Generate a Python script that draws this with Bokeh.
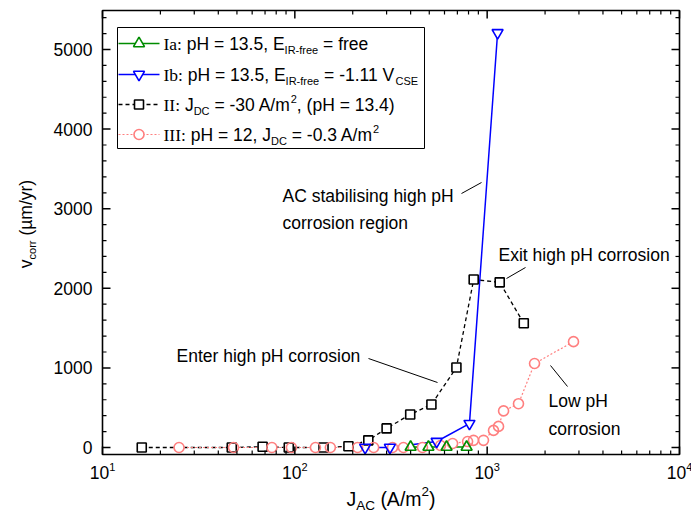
import math
from bokeh.plotting import figure
from bokeh.models import Range1d, Label
from bokeh.embed import file_html
from bokeh.resources import INLINE

# ---------------- data ----------------
ia_j = [400, 495, 615, 782]
ia_v = [5, 5, 5, 5]

ib_j = [232, 312, 546, 809, 1133]
ib_v = [0, 0, 75, 300, 5210]

ii_j = [16, 47, 68, 93, 141, 190, 241, 300, 398, 513, 692, 851, 1162, 1550]
ii_v = [0, 0, 10, 0, 0, 15, 90, 240, 415, 540, 1005, 2110, 2075, 1560]

iii_j = [25, 48, 76, 96, 128, 153, 212, 257, 322, 367, 461, 572, 661, 791, 849,
         957, 1079, 1146, 1217, 1455, 1763, 2811]
iii_v = [0, 0, 0, 0, 0, 0, 0, 0, 0, 0, 0, 25, 50, 75, 90, 90, 215, 265, 460,
         550, 1055, 1330]

x_tick_values = [10, 100, 1000, 10000]
x_tick_exponents = ["1", "2", "3", "4"]
x_minor_values = [m * 10 ** k for k in (1, 2, 3) for m in range(2, 10)]
y_tick_values = [0, 1000, 2000, 3000, 4000, 5000]
y_minor_values = [v for v in range(200, 5401, 200) if v % 1000 != 0]

# ---------------- layout constants ----------------
WIDTH, HEIGHT = 691, 524
L, R, T, B = 102, 679, 10, 454      # plot box in canvas pixels
X0, X1 = 10, 1e4                    # axis limits of the plot box
Y0, Y1 = -88, 5490
SANS = "Liberation Sans"
SERIF = "Liberation Serif"
FS = 17.5
FSS = 11
FS_XT, FSS_XT = 19.5, 13.5          # x-axis title sizes
MAJ, MIN = 8, 4                     # tick lengths (px)

C_IA = "#008C00"
C_IB = "#0000FF"
C_II = "#000000"
C_III = "#FF7F7F"


def px_to_x(px):
    lo, hi = math.log10(X0), math.log10(X1)
    return 10 ** (lo + (px - L) / (R - L) * (hi - lo))


def py_to_y(py):
    return Y0 + (B - py) / (B - T) * (Y1 - Y0)


def x_to_px(x):
    lo, hi = math.log10(X0), math.log10(X1)
    return L + (math.log10(x) - lo) / (hi - lo) * (R - L)


SANS_W = {' ': 278, '(': 333, ')': 333, ',': 278, '-': 333, '.': 278, '/': 278,
          ':': 278, '=': 584, 'A': 667, 'C': 722, 'D': 722, 'E': 667, 'F': 611,
          'H': 722, 'I': 278, 'J': 500, 'L': 556, 'R': 722, 'S': 667, 'V': 667,
          'a': 556, 'b': 556, 'c': 500, 'e': 556, 'f': 278, 'g': 556, 'h': 556,
          'i': 222, 'l': 222, 'm': 833, 'n': 556, 'o': 556, 'p': 556, 'r': 333,
          's': 500, 't': 278, 'u': 556, 'v': 500, 'w': 722, 'x': 500, 'y': 500,
          'µ': 576}
SERIF_W = {'I': 333, 'a': 444, 'b': 500, ':': 278, ' ': 250}


def text_width(s, size, serif=False):
    table = SERIF_W if serif else SANS_W
    return sum(table.get(ch, 556) for ch in s) / 1000.0 * size


# The figure's frame spans the whole canvas; the log / linear scales are set so
# that the plot box (X0..X1, Y0..Y1) lands where the reference has it.
p = figure(width=WIDTH, height=HEIGHT, x_axis_type="log",
           x_axis_location=None, y_axis_location=None,
           x_range=Range1d(px_to_x(0), px_to_x(WIDTH)),
           y_range=Range1d(py_to_y(HEIGHT), py_to_y(0)),
           output_backend="svg", toolbar_location=None, min_border=0)
p.background_fill_color = "white"
p.border_fill_color = "white"
p.outline_line_color = None
p.grid.visible = False

# ---------------- legend box ----------------
p.quad(left=[px_to_x(117)], right=[px_to_x(424)], top=[py_to_y(27)], bottom=[py_to_y(148)],
       fill_color="white", line_color="black", line_width=1)

# ---------------- series ----------------
p.line(ii_j, ii_v, line_color=C_II, line_width=1.3, line_dash="4 3")
p.line(iii_j, iii_v, line_color=C_III, line_width=1.2, line_dash="2 2")
p.line(ia_j, ia_v, line_color=C_IA, line_width=1.5)
p.line(ib_j, ib_v, line_color=C_IB, line_width=1.5)

series = [
    (ii_j, ii_v, "square", 9, C_II),
    (iii_j, iii_v, "circle", 10, C_III),
    (ia_j, ia_v, "triangle", 11, C_IA),
    (ib_j, ib_v, "inverted_triangle", 11, C_IB),
]
for xs, ys, mk, sz, col in series:
    p.scatter(xs, ys, marker=mk, size=sz, fill_color="white", line_color=None)
for xs, ys, mk, sz, col in series:
    p.scatter(xs, ys, marker=mk, size=sz, fill_color=None, line_color=col, line_width=1.6)

# ---------------- legend keys ----------------
legend_rows = [
    (43, C_IA, None, 1.5, "triangle", 11),
    (74, C_IB, None, 1.5, "inverted_triangle", 11),
    (104, C_II, "4 3", 1.3, "square", 9),
    (134, C_III, "2 2", 1.2, "circle", 10),
]
KX0, KX1, KXM = 118, 159, 138.5
for ry, col, dash, lw, mk, sz in legend_rows:
    kw = dict(line_color=col, line_width=lw)
    if dash:
        kw["line_dash"] = dash
    p.line([px_to_x(KX0), px_to_x(KX1)], [py_to_y(ry), py_to_y(ry)], **kw)
    p.scatter([px_to_x(KXM)], [py_to_y(ry)], marker=mk, size=sz,
              fill_color="white", line_color=col, line_width=1.6)

# ---------------- axes: box + ticks (from the tick value lists) ----------------
p.quad(left=[X0], right=[X1], bottom=[Y0], top=[Y1], fill_color=None,
       line_color="black", line_width=1.6)


def x_ticks(values, length, width):
    yb0, yb1 = Y0, py_to_y(B - length)
    yt0, yt1 = Y1, py_to_y(T + length)
    p.segment(x0=values, x1=values, y0=[yb0] * len(values), y1=[yb1] * len(values),
              line_color="black", line_width=width)
    p.segment(x0=values, x1=values, y0=[yt0] * len(values), y1=[yt1] * len(values),
              line_color="black", line_width=width)


def y_ticks(values, length, width):
    xl0, xl1 = X0, px_to_x(L + length)
    xr0, xr1 = X1, px_to_x(R - length)
    p.segment(x0=[xl0] * len(values), x1=[xl1] * len(values), y0=values, y1=values,
              line_color="black", line_width=width)
    p.segment(x0=[xr0] * len(values), x1=[xr1] * len(values), y0=values, y1=values,
              line_color="black", line_width=width)


x_ticks(x_tick_values, MAJ, 1.5)
x_ticks(x_minor_values, MIN, 1.2)
y_ticks(y_tick_values, MAJ, 1.5)
y_ticks(y_minor_values, MIN, 1.2)


# ---------------- rich text helper ----------------
def rich(px, py, pieces, angle=0.0, fs=FS, fss=FSS, shift_px=6):
    pos = 0.0
    for s, kind in pieces:
        size = fss if kind in ("sub", "sup") else fs
        serif = kind == "r"
        font = SERIF if serif else SANS
        shift = shift_px if kind == "sub" else (-shift_px if kind == "sup" else 0)
        stripped = s.lstrip(" ")
        pos += text_width(s[:len(s) - len(stripped)], size, serif)
        if stripped:
            if angle == 0:
                cx, cy = px + pos, py + shift
            else:
                cx, cy = px + shift, py - pos
            p.add_layout(Label(x=px_to_x(cx), y=py_to_y(cy), text=stripped,
                               text_font=font, text_font_size=f"{size}px",
                               text_align="left", text_baseline="middle",
                               angle=angle, text_color="black"))
        pos += text_width(stripped, size, serif)
    return pos


# y tick labels
for yv in y_tick_values:
    p.add_layout(Label(x=px_to_x(L - 10), y=yv, text=str(yv), text_font=SANS,
                       text_font_size=f"{FS}px", text_align="right",
                       text_baseline="middle", text_color="black"))

# x tick labels 10^n
for xv, ex in zip(x_tick_values, x_tick_exponents):
    tpx = x_to_px(xv)
    w = text_width("10", FS) + text_width(ex, FSS)
    rich(tpx - w / 2, 472, [("10", "n"), (ex, "sup")])

# x axis title
xw = (text_width("J", FS_XT) + text_width("AC", FSS_XT) + text_width(" (A/m", FS_XT)
      + text_width("2", FSS_XT) + text_width(")", FS_XT))
rich((L + R) / 2 - xw / 2, 498, [("J", "n"), ("AC", "sub"), (" (A/m", "n"), ("2", "sup"), (")", "n")],
     fs=FS_XT, fss=FSS_XT, shift_px=7)

# y axis title (rotated)
yw = text_width("v", FS) + text_width("corr", FSS) + text_width(" (µm/yr)", FS)
rich(25, 223.5 + yw / 2, [("v", "n"), ("corr", "sub"), (" (µm/yr)", "n")], angle=math.pi / 2)

# legend texts
LX = 163
rich(LX, 43, [("Ia:", "r"), (" pH = 13.5, E", "n"), ("IR-free", "sub"), (" = free", "n")])
rich(LX, 74, [("Ib:", "r"), (" pH = 13.5, E", "n"), ("IR-free", "sub"), (" = -1.11 V", "n"), ("CSE", "sub")])
rich(LX, 104, [("II:", "r"), (" J", "n"), ("DC", "sub"), (" = -30 A/m", "n"), ("2", "sup"), (", (pH = 13.4)", "n")])
rich(LX, 134, [("III:", "r"), (" pH = 12, J", "n"), ("DC", "sub"), (" = -0.3 A/m", "n"), ("2", "sup")])

# annotations
rich(282, 195, [("AC stabilising high pH", "n")])
rich(282, 222, [("corrosion region", "n")])
rich(498, 254, [("Exit high pH corrosion", "n")])
rich(176, 355, [("Enter high pH corrosion", "n")])
rich(548, 400, [("Low pH", "n")])
rich(548, 428, [("corrosion", "n")])

leaders = [((461, 193), (481, 182)), ((506, 278), (525, 267)),
           ((368, 358), (437, 382)), ((550, 365), (567, 386))]
p.segment(x0=[px_to_x(a[0]) for a, b in leaders], y0=[py_to_y(a[1]) for a, b in leaders],
          x1=[px_to_x(b[0]) for a, b in leaders], y1=[py_to_y(b[1]) for a, b in leaders],
          line_color="black", line_width=1)

open("out.html", "w").write(file_html(p, INLINE))
